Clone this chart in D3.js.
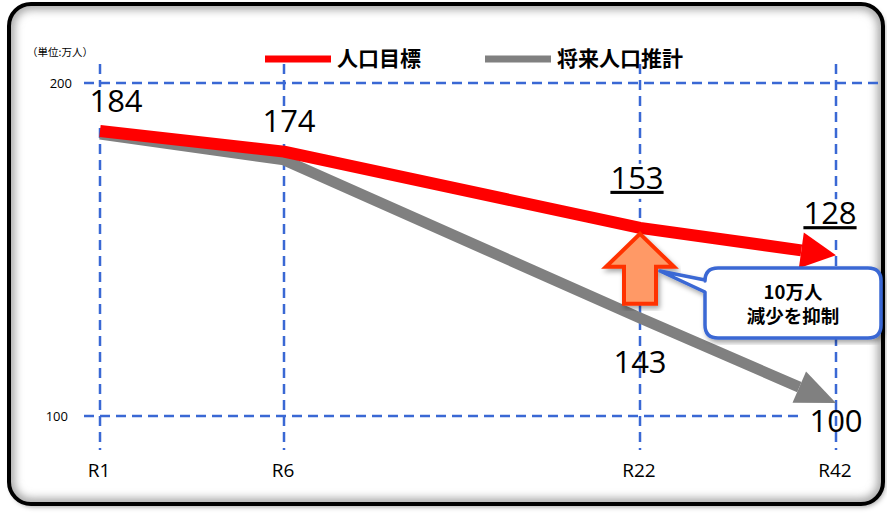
<!DOCTYPE html>
<html>
<head>
<meta charset="utf-8">
<script src="https://cdn.jsdelivr.net/npm/d3@7"></script>
<style>
  html, body { margin: 0; padding: 0; background: #fff; }
  svg { display: block; }
</style>
</head>
<body>
<script>
// periods on the x axis (Reiwa years)
const periods = ["R1", "R6", "R22", "R42"];
const years = [1, 6, 22, 42];
// lines as drawn in the picture (schematic, in axis units)
const targetLine = [185.6, 179.4, 156.5, 148.3];
const projectionLine = [184.7, 176.9, 129.4, 103.9];
// value labels printed on the chart
const targetLabels = ["184", "174", "153", "128"];
const projectionLabels = ["143", "100"];
const yTicks = [100, 200];
const seriesNames = ["人口目標", "将来人口推計"];
const unitLabel = "（単位:万人）";
const calloutLines = ["10万人", "減少を抑制"];

const width = 887;
const height = 514;
const font = "'Noto Sans CJK JP', 'Noto Sans', sans-serif";
const numFont = "'Open Sans', 'Noto Sans', sans-serif";
const red = "#ff0000";
const gray = "#808080";
const blue = "#3a68d4";

// x positions are not proportional to years in the original, so a piecewise scale
const plotLeft = 100, plotRight = 836;
const x = d3.scaleLinear()
  .domain(years)
  .range([0, 0.25, 0.7337, 1].map(f => plotLeft + f * (plotRight - plotLeft)));
const y = d3.scaleLinear().domain([100, 200]).range([416, 83]);

const svg = d3.select("body").append("svg")
  .attr("width", width)
  .attr("height", height)
  .attr("viewBox", [0, 0, width, height]);

const defs = svg.append("defs");
defs.append("filter").attr("id", "shadow")
  .attr("x", "-10%").attr("y", "-10%").attr("width", "120%").attr("height", "120%")
  .append("feDropShadow")
  .attr("dx", 2).attr("dy", 3).attr("stdDeviation", 2.5)
  .attr("flood-color", "#000").attr("flood-opacity", 0.35);
defs.append("filter").attr("id", "blur")
  .append("feGaussianBlur").attr("stdDeviation", 5);
defs.append("clipPath").attr("id", "frameClip")
  .append("rect")
  .attr("x", 9).attr("y", 4).attr("width", 874).attr("height", 500).attr("rx", 22);

// frame
svg.append("rect")
  .attr("x", 9).attr("y", 4).attr("width", 874).attr("height", 500).attr("rx", 22)
  .attr("fill", "#fff")
  .attr("filter", "url(#shadow)");
svg.append("g").attr("clip-path", "url(#frameClip)")
  .append("rect")
  .attr("x", 9).attr("y", 4).attr("width", 874).attr("height", 500).attr("rx", 22)
  .attr("fill", "none")
  .attr("stroke", "#9a9a9a")
  .attr("stroke-width", 10)
  .attr("filter", "url(#blur)");
svg.append("rect")
  .attr("x", 9).attr("y", 4).attr("width", 874).attr("height", 500).attr("rx", 22)
  .attr("fill", "none")
  .attr("stroke", "#000")
  .attr("stroke-width", 4);

// unit label
svg.append("text")
  .attr("x", 27).attr("y", 56)
  .attr("font-family", font).attr("font-size", 10.5)
  .text(unitLabel);

// grid
const grid = svg.append("g")
  .attr("stroke", blue)
  .attr("stroke-width", 2.5)
  .attr("stroke-dasharray", "10,6");
grid.selectAll("line.h")
  .data(yTicks)
  .join("line")
  .attr("class", "h")
  .attr("x1", 84)
  .attr("x2", d => d === 200 ? 880 : 802)
  .attr("y1", d => y(d))
  .attr("y2", d => y(d));
grid.selectAll("line.v")
  .data(years)
  .join("line")
  .attr("class", "v")
  .attr("x1", d => x(d))
  .attr("x2", d => x(d))
  .attr("y1", 64)
  .attr("y2", 450);

svg.append("g")
  .attr("font-family", numFont)
  .attr("font-size", 13)
  .attr("text-anchor", "end")
  .selectAll("text")
  .data(yTicks)
  .join("text")
  .attr("x", d => d === 200 ? 72 : 68)
  .attr("y", d => y(d))
  .attr("dy", "0.35em")
  .text(d => d);

// x labels
svg.append("g")
  .attr("font-family", numFont)
  .attr("font-size", 19)
  .attr("text-anchor", "middle")
  .selectAll("text")
  .data(periods)
  .join("text")
  .attr("x", (d, i) => x(years[i]) - 1)
  .attr("y", 477)
  .text(d => d);

// value labels (white background hides the grid)
const labelSpecs = [
  { text: targetLabels[0], i: 0, series: targetLine, dx: 16, dy: -19, u: false, bg: true },
  { text: targetLabels[1], i: 1, series: targetLine, dx: 5, dy: -20, u: false, bg: true },
  { text: targetLabels[2], i: 2, series: targetLine, dx: -3, dy: -39, u: true, bg: true },
  { text: targetLabels[3], i: 3, series: targetLine, dx: -6, dy: -31, u: true, bg: true },
  { text: projectionLabels[0], i: 2, series: projectionLine, dx: 0, dy: 55, u: false, bg: false },
  { text: projectionLabels[1], i: 3, series: projectionLine, dx: 0, dy: 29, u: false, bg: false }
];
const labels = svg.append("g")
  .attr("font-family", numFont)
  .attr("font-size", 31)
  .attr("text-anchor", "middle");
labelSpecs.forEach(s => {
  const lx = x(years[s.i]) + s.dx;
  const ly = y(s.series[s.i]) + s.dy;
  if (s.bg) {
    labels.append("rect")
      .attr("x", lx - 29).attr("y", ly - 25)
      .attr("width", 58).attr("height", 35)
      .attr("fill", "#fff");
  }
  labels.append("text")
    .attr("x", lx).attr("y", ly)
    .attr("text-decoration", s.u ? "underline" : null)
    .text(s.text);
});

// series lines with arrowheads
function drawSeries(values, color, strokeW, headLen, headW) {
  const pts = values.map((v, i) => [x(years[i]), y(v)]);
  const tip = pts[pts.length - 1];
  const prev = pts[pts.length - 2];
  const ang = Math.atan2(tip[1] - prev[1], tip[0] - prev[0]);
  const base = [tip[0] - headLen * Math.cos(ang), tip[1] - headLen * Math.sin(ang)];
  const linePts = pts.slice(0, -1).concat([base]);
  svg.append("path")
    .attr("d", d3.line()(linePts))
    .attr("fill", "none")
    .attr("stroke", color)
    .attr("stroke-width", strokeW)
    .attr("stroke-linejoin", "round");
  const nx = -Math.sin(ang), ny = Math.cos(ang);
  svg.append("path")
    .attr("d", d3.line()([
      tip,
      [base[0] + nx * headW / 2, base[1] + ny * headW / 2],
      [base[0] - nx * headW / 2, base[1] - ny * headW / 2]
    ]) + "Z")
    .attr("fill", color);
}
drawSeries(projectionLine, gray, 11, 40, 34);
drawSeries(targetLine, red, 12, 35, 36);

// legend
const legend = svg.append("g").attr("font-family", font).attr("font-weight", "bold").attr("font-size", 21);
const legendItems = [
  { name: seriesNames[0], color: red, x0: 265, w: 7 },
  { name: seriesNames[1], color: gray, x0: 485, w: 7 }
];
legendItems.forEach(d => {
  legend.append("line")
    .attr("x1", d.x0).attr("x2", d.x0 + 66)
    .attr("y1", 59).attr("y2", 59)
    .attr("stroke", d.color).attr("stroke-width", d.w);
  legend.append("text")
    .attr("x", d.x0 + 72).attr("y", 59).attr("dy", "0.35em")
    .text(d.name);
});

// orange up arrow under the target line at R22
const ax = x(years[2]);
const ay = y(targetLine[2]) + 6;
svg.append("path")
  .attr("d", d3.line()([
    [ax, ay], [ax + 34, ay + 33], [ax + 16, ay + 33], [ax + 16, ay + 70],
    [ax - 16, ay + 70], [ax - 16, ay + 33], [ax - 34, ay + 33]
  ]) + "Z")
  .attr("fill", "#ff9966")
  .attr("stroke", "#ff3300")
  .attr("stroke-width", 4)
  .attr("stroke-linejoin", "miter")
  .attr("filter", "url(#shadow)");

// callout box
const bx = 705, by = 268, bw = 176, bh = 70, r = 13;
const callout = svg.append("g").attr("filter", "url(#shadow)");
const pathStr = [
  `M${bx + r},${by}`,
  `H${bx + bw - r}`, `Q${bx + bw},${by} ${bx + bw},${by + r}`,
  `V${by + bh - r}`, `Q${bx + bw},${by + bh} ${bx + bw - r},${by + bh}`,
  `H${bx + r}`, `Q${bx},${by + bh} ${bx},${by + bh - r}`,
  `V${by + 24}`, `L${ax + 20},${by + 3}`, `L${bx},${by + 12}`,
  `V${by + r}`, `Q${bx},${by} ${bx + r},${by}`, "Z"
].join(" ");
callout.append("path")
  .attr("d", pathStr)
  .attr("fill", "#fff")
  .attr("stroke", blue)
  .attr("stroke-width", 3.5)
  .attr("stroke-linejoin", "round");
svg.append("g")
  .attr("font-family", font)
  .attr("font-weight", "bold")
  .attr("font-size", 18.5)
  .attr("text-anchor", "middle")
  .selectAll("text")
  .data(calloutLines)
  .join("text")
  .attr("x", bx + bw / 2)
  .attr("y", (d, i) => by + 25 + i * 24)
  .attr("dy", "0.35em")
  .text(d => d);
</script>
</body>
</html>
